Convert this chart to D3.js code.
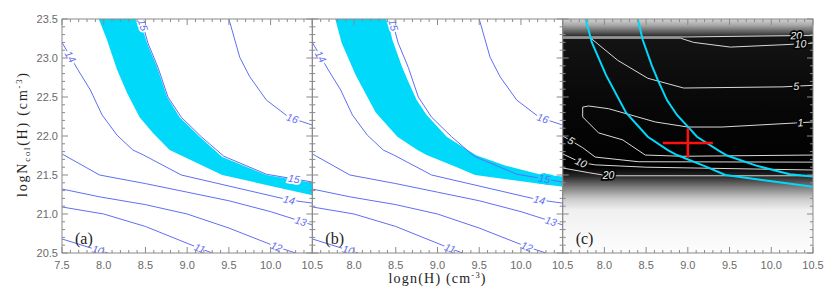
<!DOCTYPE html>
<html><head><meta charset="utf-8">
<script src="https://cdn.jsdelivr.net/npm/d3@7"></script>
<style>body{margin:0;background:#fff}</style>
</head><body><svg id="chart" width="830" height="293"></svg>
<script>
// ---------- data ----------
const xDomain = [7.5, 10.5];
const yDomain = [20.5, 23.5];
const panelNames = ["(a)", "(b)", "(c)"];
const xTickLabelsA = ["7.5","8.0","8.5","9.0","9.5","10.0","10.5"];
const xTickLabelsBC = ["8.0","8.5","9.0","9.5","10.0","10.5"];
const yTickLabels = ["20.5","21.0","21.5","22.0","22.5","23.0","23.5"];

// model contours (panels a, b): points [logn, logN]
const contour16 = [[9.50,23.5],[9.63,23.01],[9.75,22.76],[9.95,22.46],[10.22,22.24],[10.5,22.14]];
const contour15 = [[8.45,23.5],[8.53,23.19],[8.65,22.88],[8.77,22.5],[8.93,22.24],[9.17,21.99],[9.44,21.74],[9.95,21.51],[10.5,21.41]];
const contour14 = [[7.5,23.2],[7.69,22.85],[7.84,22.59],[7.98,22.27],[8.16,22.01],[8.35,21.82],[8.47,21.76],[8.93,21.5],[10.22,21.18],[10.5,21.14]];
const contour13 = [[7.5,21.77],[7.95,21.5],[8.5,21.39],[9.0,21.28],[9.5,21.17],[10.0,21.03],[10.5,20.86]];
const contour12 = [[7.5,21.32],[7.95,21.22],[8.5,21.12],[9.0,21.0],[9.5,20.82],[10.07,20.58],[10.3,20.5]];
const contour11 = [[7.5,21.09],[8.0,21.0],[8.5,20.84],[9.15,20.56],[9.3,20.5]];
const contour10 = [[7.5,20.68],[7.92,20.54],[8.05,20.5]];
const modelLevels = ["16","15","14","13","12","11","10"];
// label spots: [contour index, logn]
const modelLabelSpots = [[0,10.26],[1,8.47],[1,10.28],[2,7.6],[2,10.22],[3,10.36],[4,10.07],[5,9.15],[6,7.93]];

// cyan bands: upper (right) and lower (left) edges
const bandAUpper = [[8.43,23.5],[8.52,23.19],[8.64,22.88],[8.76,22.5],[8.91,22.24],[9.15,21.99],[9.42,21.73],[9.95,21.5],[10.5,21.40]];
const bandALower = [[7.94,23.5],[8.04,23.23],[8.16,22.85],[8.28,22.55],[8.43,22.24],[8.59,22.04],[8.79,21.82],[8.91,21.76],[9.42,21.5],[10.5,21.24]];
const bandBUpper = [[8.40,23.5],[8.46,23.23],[8.57,22.90],[8.64,22.72],[8.75,22.46],[8.87,22.27],[9.0,22.12],[9.11,21.99],[9.36,21.82],[9.47,21.75],[9.82,21.62],[10.22,21.51],[10.5,21.48]];
const bandBLower = [[7.775,23.5],[7.85,23.2],[8.02,22.78],[8.26,22.3],[8.52,21.99],[8.76,21.82],[8.87,21.756],[9.21,21.61],[9.45,21.5],[10.5,21.35]];

// chi-square contours (panel c)
const chi20top = [[7.5,23.27],[9.0,23.27],[10.5,23.29]];
const chi10top = [[7.5,23.255],[8.91,23.255],[9.07,23.2],[9.51,23.14],[10.14,23.17],[10.5,23.19]];
const chi5top  = [[7.835,23.256],[8.16,22.97],[8.52,22.74],[8.95,22.615],[10.14,22.63],[10.5,22.65]];
const chi1     = [[10.5,22.18],[10.29,22.167],[9.41,22.115],[9.0,22.115],[8.61,22.18],[8.05,22.35],[7.81,22.385],[7.74,22.37],[7.74,22.244],[7.93,22.04],[8.22,21.95],[8.49,21.756],[8.93,21.74],[10.5,21.756]];
const chi5low  = [[7.5,22.0],[7.6,21.94],[7.74,21.85],[7.89,21.73],[8.41,21.67],[10.5,21.665]];
const chi10low = [[7.5,21.77],[7.72,21.66],[7.89,21.63],[8.5,21.6],[10.5,21.564]];
const chi20low = [[7.5,21.59],[7.81,21.53],[8.04,21.49],[10.5,21.49]];
const chiLevels = ["20","10","5","1","5","10","20"];
const chiLabelX = [10.3, 10.35, 10.3, 10.35, 7.6, 7.72, 8.05];

const bestFit = [9.0, 21.91];
const bestFitErr = [0.3, 0.19];

// ---------- drawing ----------
const svg = d3.select("#chart");
const left0 = 62, pw = 250.33, top0 = 19, bottom0 = 253;
const y = d3.scaleLinear().domain(yDomain).range([bottom0, top0]);
const xScales = [0,1,2].map(i => d3.scaleLinear().domain(xDomain).range([left0 + i*pw, left0 + (i+1)*pw]));

const BLUE = "#5f6ef4", CYAN = "#00d9fa", AXIS = "#8a8a8a", TICKTXT = "#6a6a6a";

const defs = svg.append("defs");
xScales.forEach((x,i) => {
  defs.append("clipPath").attr("id","clip"+i).append("rect")
    .attr("x", x.range()[0]).attr("y", top0).attr("width", pw).attr("height", bottom0-top0);
});

// panel c background gradient
const grad = defs.append("linearGradient").attr("id","chiBg")
  .attr("gradientUnits","userSpaceOnUse").attr("x1",0).attr("x2",0).attr("y1",top0).attr("y2",bottom0);
const stops = [[23.5,"#d4d4d4"],[23.42,"#a8a8a8"],[23.33,"#5a5a5a"],[23.285,"#303030"],[23.27,"#141414"],[22.5,"#090909"],[21.6,"#000"],[21.48,"#2a2a2a"],[21.35,"#7a7a7a"],[21.2,"#c8c8c8"],[21.05,"#f0f0f0"],[20.5,"#fdfdfd"]];
stops.forEach(s => grad.append("stop").attr("offset", ((y(s[0])-top0)/(bottom0-top0))).attr("stop-color", s[1]));

function lineGen(x){ return d3.line().x(d=>x(d[0])).y(d=>y(d[1])); }

function labelOnPath(g, x, pts, xAt, text, color, halo){
  let k = 0;
  for (let j=0;j<pts.length-1;j++){
    const a=pts[j][0], b=pts[j+1][0];
    if ((xAt>=Math.min(a,b)) && (xAt<=Math.max(a,b))) { k=j; break; }
  }
  const p0=pts[k], p1=pts[k+1];
  const t = (p1[0]===p0[0]) ? 0.5 : (xAt-p0[0])/(p1[0]-p0[0]);
  const px = x(p0[0]+t*(p1[0]-p0[0])), py = y(p0[1]+t*(p1[1]-p0[1]));
  let ang = Math.atan2(y(p1[1])-y(p0[1]), x(p1[0])-x(p0[0]))*180/Math.PI;
  if (ang>90) ang-=180; if (ang<-90) ang+=180;
  const tx = g.append("text").attr("transform",`translate(${px},${py}) rotate(${ang})`)
    .attr("text-anchor","middle").attr("dy","0.35em")
    .attr("font-family","Liberation Sans, Arial, sans-serif").attr("font-size",10.5).attr("font-style","italic")
    .attr("fill",color).text(text);
  if (halo) tx.attr("stroke",halo).attr("stroke-width",3.5).attr("paint-order","stroke");
}

const modelContours = [contour16, contour15, contour14, contour13, contour12, contour11, contour10];
const chiContours = [chi20top, chi10top, chi5top, chi1, chi5low, chi10low, chi20low];

// panels a and b
[[bandAUpper,bandALower],[bandBUpper,bandBLower]].forEach((band,i) => {
  const x = xScales[i];
  const g = svg.append("g").attr("clip-path",`url(#clip${i})`);
  const poly = band[0].concat(band[1].slice().reverse());
  g.append("path").datum(poly).attr("d", lineGen(x).curve(d3.curveLinearClosed)).attr("fill",CYAN);
  modelContours.forEach(c => {
    g.append("path").datum(c).attr("d", lineGen(x)).attr("fill","none").attr("stroke",BLUE).attr("stroke-width",1);
  });
  modelLabelSpots.forEach(s => {
    const c = modelContours[s[0]];
    const onBand = (i===1 && s[0]===1 && s[1]>9);
    labelOnPath(g, x, c, s[1], modelLevels[s[0]], BLUE, onBand ? CYAN : "#fff");
  });
});

// panel c
{
  const x = xScales[2];
  const g = svg.append("g").attr("clip-path","url(#clip2)");
  g.append("rect").attr("x",x.range()[0]).attr("y",top0).attr("width",pw).attr("height",bottom0-top0).attr("fill","url(#chiBg)");
  chiContours.forEach(c => g.append("path").datum(c).attr("d", lineGen(x)).attr("fill","none").attr("stroke","#d8d8d8").attr("stroke-width",1));
  chiContours.forEach((c,k) => labelOnPath(g, x, c, chiLabelX[k], chiLevels[k], "#f0f0f0", "#050505"));
  [bandBUpper, bandBLower].forEach(c => g.append("path").datum(c).attr("d", lineGen(x)).attr("fill","none").attr("stroke",CYAN).attr("stroke-width",2));
  g.append("line").attr("x1",x(bestFit[0]-bestFitErr[0])).attr("x2",x(bestFit[0]+bestFitErr[0])).attr("y1",y(bestFit[1])).attr("y2",y(bestFit[1])).attr("stroke","#ff1010").attr("stroke-width",2.5);
  g.append("line").attr("x1",x(bestFit[0])).attr("x2",x(bestFit[0])).attr("y1",y(bestFit[1]-bestFitErr[1])).attr("y2",y(bestFit[1]+bestFitErr[1])).attr("stroke","#ff1010").attr("stroke-width",2.5);
}

// axes & ticks
const majorX = d3.range(7.5, 10.5001, 0.5), minorX = d3.range(7.5, 10.5001, 0.1);
const majorY = d3.range(20.5, 23.5001, 0.5), minorY = d3.range(20.5, 23.5001, 0.1);
xScales.forEach((x,i) => {
  const g = svg.append("g").attr("stroke",AXIS).attr("stroke-width",1).attr("fill","none");
  const x0=x.range()[0], x1=x.range()[1];
  g.append("rect").attr("x",x0).attr("y",top0).attr("width",pw).attr("height",bottom0-top0);
  minorX.forEach(v => {
    const isMaj = majorX.some(m=>Math.abs(m-v)<1e-6), L = isMaj?6:3;
    g.append("line").attr("x1",x(v)).attr("x2",x(v)).attr("y1",bottom0).attr("y2",bottom0-L);
    g.append("line").attr("x1",x(v)).attr("x2",x(v)).attr("y1",top0).attr("y2",top0+L);
  });
  minorY.forEach(v => {
    const isMaj = majorY.some(m=>Math.abs(m-v)<1e-6), L = isMaj?6:3;
    g.append("line").attr("x1",x0).attr("x2",x0+L).attr("y1",y(v)).attr("y2",y(v));
    g.append("line").attr("x1",x1).attr("x2",x1-L).attr("y1",y(v)).attr("y2",y(v));
  });
  const labs = i===0 ? xTickLabelsA : xTickLabelsBC;
  svg.append("g").selectAll("text").data(labs).join("text")
    .attr("x", d=>x(+d)).attr("y", 269).attr("text-anchor","middle")
    .attr("font-family","Liberation Sans, Arial, sans-serif").attr("font-size",11).attr("fill",TICKTXT).text(d=>d);
  svg.append("text").attr("x", x0+13).attr("y", 244)
    .attr("font-family","Liberation Serif, Times New Roman, serif").attr("font-size",16).attr("fill","#222").text(panelNames[i]);
});
svg.append("g").selectAll("text").data(yTickLabels).join("text")
  .attr("x", 58).attr("y", d=>y(+d)+4).attr("text-anchor","end")
  .attr("font-family","Liberation Sans, Arial, sans-serif").attr("font-size",11).attr("fill",TICKTXT).text(d=>d);

// axis titles
const xt = svg.append("text").attr("x", 437).attr("y", 283).attr("text-anchor","middle")
  .attr("font-family","Liberation Serif, Times New Roman, serif").attr("font-size",14).attr("fill","#222")
  .attr("textLength",97).attr("lengthAdjust","spacing");
xt.append("tspan").text("logn(H) (cm");
xt.append("tspan").attr("font-size",8.5).attr("dy",-5).text("-3");
xt.append("tspan").attr("dy",5).text(")");

const yt = svg.append("text").attr("transform","translate(27,135) rotate(-90)").attr("text-anchor","middle")
  .attr("font-family","Liberation Serif, Times New Roman, serif").attr("font-size",14).attr("fill","#222")
  .attr("textLength",124).attr("lengthAdjust","spacing");
yt.append("tspan").text("logN");
yt.append("tspan").attr("font-size",8.5).attr("dy",3).text("col");
yt.append("tspan").attr("dy",-3).text("(H) (cm");
yt.append("tspan").attr("font-size",8.5).attr("dy",-5).text("-3");
yt.append("tspan").attr("dy",5).text(")");
</script></body></html>
